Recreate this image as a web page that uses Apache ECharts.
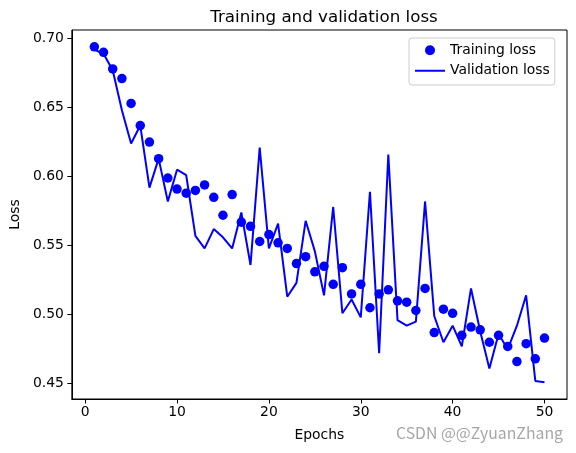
<!DOCTYPE html>
<html>
<head>
<meta charset="utf-8">
<script src="https://cdn.jsdelivr.net/npm/echarts@6/dist/echarts.min.js"></script>
<style>
html,body{margin:0;padding:0;background:#fff;}
#c{width:576px;height:453px;}
</style>
</head>
<body>
<div id="c"></div>
<script>
const epochs = [1,2,3,4,5,6,7,8,9,10,11,12,13,14,15,16,17,18,19,20,21,22,23,24,25,26,27,28,29,30,31,32,33,34,35,36,37,38,39,40,41,42,43,44,45,46,47,48,49,50];
const trainingLoss = [0.694,0.690,0.678,0.671,0.653,0.637,0.625,0.613,0.599,0.591,
  0.588,0.590,0.594,0.585,0.572,0.587,0.567,0.564,0.553,0.558,
  0.552,0.548,0.537,0.542,0.531,0.535,0.522,0.534,0.515,0.522,
  0.505,0.515,0.518,0.510,0.509,0.503,0.519,0.487,0.504,0.501,
  0.485,0.491,0.489,0.480,0.485,0.477,0.466,0.479,0.468,0.483];
const validationLoss = [0.692,0.689,0.677,0.648,0.624,0.637,0.592,0.613,0.582,0.605,
  0.601,0.557,0.548,0.562,0.556,0.548,0.574,0.536,0.621,0.548,
  0.566,0.513,0.523,0.568,0.546,0.514,0.578,0.501,0.511,0.498,
  0.589,0.472,0.616,0.496,0.492,0.495,0.582,0.499,0.480,0.492,
  0.477,0.519,0.488,0.461,0.486,0.475,0.492,0.514,0.452,0.451];
const xTicks = [0,10,20,30,40,50];
const yTicks = [0.45,0.50,0.55,0.60,0.65,0.70];

const chart = echarts.init(document.getElementById('c'), null, {renderer:'canvas'});
const font = 'DejaVu Sans';
chart.setOption({
  animation:false,
  backgroundColor:'#ffffff',
  title:{
    text:'Training and validation loss',
    left:319, top:4, textAlign:'center',
    textStyle:{fontFamily:font,fontSize:16.7,fontWeight:'normal',color:'#000'}
  },
  legend:{
    orient:'vertical',
    left:409, top:38,
    padding:[5,5,7,5],
    itemWidth:30, itemHeight:10, itemGap:6, itemTextGap:10,
    backgroundColor:'rgba(255,255,255,0.8)',
    borderColor:'#cccccc', borderWidth:1, borderRadius:3,
    textStyle:{fontFamily:font,fontSize:13.9,color:'#000',lineHeight:14.5},
    data:[{name:'Training loss',icon:'circle'},{name:'Validation loss',itemStyle:{opacity:0}}]
  },
  grid:{left:71,right:9,top:30,bottom:54,show:true,borderColor:'#000',borderWidth:1,backgroundColor:'transparent'},
  xAxis:{
    type:'value', min:-1.45, max:52.45,
    name:'Epochs', nameLocation:'middle', nameGap:29,
    nameTextStyle:{fontFamily:font,fontSize:13.9,color:'#000'},
    axisLine:{show:true,onZero:false,lineStyle:{color:'#000',width:1}},
    axisTick:{show:true,length:4.5,lineStyle:{color:'#000'},customValues:xTicks},
    axisLabel:{fontFamily:font,fontSize:13.9,color:'#000',margin:6,customValues:xTicks,formatter:v=>String(v)},
    splitLine:{show:false}
  },
  yAxis:{
    type:'value', min:0.4389, max:0.7062,
    name:'Loss', nameLocation:'middle', nameGap:45,
    nameTextStyle:{fontFamily:font,fontSize:13.9,color:'#000'},
    axisLine:{show:true,onZero:false,lineStyle:{color:'#000',width:1}},
    axisTick:{show:true,length:4.5,lineStyle:{color:'#000'},customValues:yTicks},
    axisLabel:{fontFamily:font,fontSize:13.9,color:'#000',margin:8,customValues:yTicks,formatter:v=>v.toFixed(2)},
    splitLine:{show:false}
  },
  series:[
    {name:'Training loss',type:'scatter',symbol:'circle',symbolSize:9.5,
     itemStyle:{color:'#0000ff',opacity:1},
     data:epochs.map((e,i)=>[e,trainingLoss[i]])},
    {name:'Validation loss',type:'line',symbol:'none',showSymbol:false,
     lineStyle:{color:'#0000ff',width:2},itemStyle:{color:'#0000ff'},
     data:epochs.map((e,i)=>[e,validationLoss[i]])}
  ],
  graphic:[{
    type:'text', left:396, top:425,
    style:{text:'CSDN @@ZyuanZhang',font:'15.8px "Noto Sans CJK SC", "DejaVu Sans"',fill:'rgba(150,150,150,0.85)'}
  }]
});
</script>
</body>
</html>
